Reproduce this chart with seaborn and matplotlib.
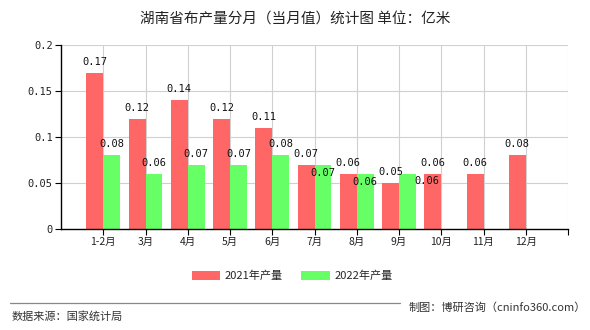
import numpy as np
import pandas as pd
import matplotlib
matplotlib.use("Agg")
import matplotlib.pyplot as plt
import seaborn as sns
from matplotlib.patches import Patch
from matplotlib.lines import Line2D

# 湖南省布产量（当月值，亿米）
months = ["1-2月", "3月", "4月", "5月", "6月", "7月", "8月", "9月", "10月", "11月", "12月"]
output_2021 = [0.17, 0.12, 0.14, 0.12, 0.11, 0.07, 0.06, 0.05, 0.06, 0.06, 0.08]
output_2022 = [0.08, 0.06, 0.07, 0.07, 0.08, 0.07, 0.06, 0.06, np.nan, np.nan, np.nan]
series_names = ["2021年产量", "2022年产量"]
y_ticks = [0, 0.05, 0.1, 0.15, 0.2]
y_tick_labels = ["0", "0.05", "0.1", "0.15", "0.2"]

colors = ["#ff6666", "#66ff66"]

df = pd.DataFrame({
    "月份": months * 2,
    "产量": output_2021 + output_2022,
    "系列": [series_names[0]] * len(months) + [series_names[1]] * len(months),
})

sns.set_theme(style="white")
plt.rcParams["font.family"] = ["Noto Sans CJK SC", "DejaVu Sans"]

fig = plt.figure(figsize=(5.9, 3.3), dpi=100)
ax = fig.add_axes([61 / 590, 1 - 229 / 330, 507 / 590, 184 / 330])

sns.barplot(data=df, x="月份", y="产量", hue="系列", palette=colors,
            width=0.8, saturation=1, legend=False, ax=ax, zorder=2,
            linewidth=0, edgecolor="none")

ax.set_xlim(-1, 11)
ax.set_ylim(0, 0.2)

# grid: horizontal at y ticks, vertical at each category and the right edge
for yv in y_ticks[1:]:
    ax.axhline(yv, color="#d0d0d0", lw=0.8, zorder=0)
for xv in range(0, 12):
    ax.axvline(xv, color="#d0d0d0", lw=0.8, zorder=0)

ax.set_xticks(range(0, 12))
ax.set_xticklabels(months + [""], fontsize=7.5, color="#222222")
ax.set_yticks(y_ticks)
ax.set_yticklabels(y_tick_labels, fontsize=7.5, color="#222222",
                   family="DejaVu Sans Mono")
ax.tick_params(axis="both", which="both", length=4, width=0.8, color="#000000",
               direction="out", bottom=True, left=True, pad=2)
ax.set_xlabel("")
ax.set_ylabel("")

for side in ["top", "right"]:
    ax.spines[side].set_visible(False)
for side in ["left", "bottom"]:
    ax.spines[side].set_color("#000000")
    ax.spines[side].set_linewidth(1.0)

# value labels (pixel offsets from bar top; a few green ones sit inside the bar)
label_dy = {1: {5: -8, 6: -8, 7: -7}}
label_dx = {1: {7: 19}}
for si, container in enumerate(ax.containers):
    values = [output_2021, output_2022][si]
    for i, bar in enumerate(container):
        v = values[i]
        if v is None or np.isnan(v):
            continue
        dy = label_dy.get(si, {}).get(i, 11)
        dx = label_dx.get(si, {}).get(i, 0)
        ax.annotate(f"{v:g}", xy=(bar.get_x() + bar.get_width() / 2, v),
                    xytext=(dx * 0.72, dy * 0.72), textcoords="offset points",
                    ha="center", va="center", fontsize=7.5,
                    family="DejaVu Sans Mono", color="#111111", zorder=5)

fig.text(0.5, 1 - 20 / 330, "湖南省布产量分月（当月值）统计图 单位：亿米",
         ha="center", va="center", fontsize=10.5, color="#222222")

handles = [Patch(facecolor=c, edgecolor="none") for c in colors]
fig.legend(handles, series_names, loc="center", bbox_to_anchor=(292 / 590, 1 - 276 / 330),
           ncol=2, frameon=False, fontsize=8, handlelength=2.6, handleheight=0.9,
           handletextpad=0.4, columnspacing=1.6)

fig.add_artist(Line2D([10 / 590, 400 / 590], [1 - 303 / 330, 1 - 303 / 330],
                      color="#888888", lw=0.9, transform=fig.transFigure))
fig.text(12 / 590, 1 - 316 / 330, "数据来源：国家统计局", ha="left", va="center",
         fontsize=8, color="#333333")
fig.text(586 / 590, 1 - 308 / 330, "制图：博研咨询（cninfo360.com）", ha="right",
         va="center", fontsize=8, color="#333333")

fig.savefig("out.png", dpi=100, facecolor="white")
